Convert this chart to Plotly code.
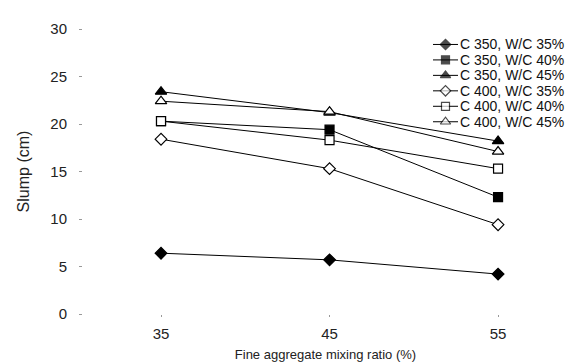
import plotly.graph_objects as go

# ---- data ----
mix_ratio = [35, 45, 55]
c350_wc35 = [6.4, 5.7, 4.2]
c350_wc40 = [20.3, 19.4, 12.3]
c350_wc45 = [23.4, 21.2, 18.2]
c400_wc35 = [18.4, 15.3, 9.4]
c400_wc40 = [20.3, 18.3, 15.3]
c400_wc45 = [22.4, 21.3, 17.1]

series_names = ["C 350, W/C 35%", "C 350, W/C 40%", "C 350, W/C 45%",
                "C 400, W/C 35%", "C 400, W/C 40%", "C 400, W/C 45%"]
series_values = [c350_wc35, c350_wc40, c350_wc45, c400_wc35, c400_wc40, c400_wc45]
x_ticks = [35, 45, 55]
y_ticks = [0, 5, 10, 15, 20, 25, 30]

# ---- styles ----
symbols = ["diamond", "square", "triangle-up", "diamond", "square", "triangle-up"]
fills = ["black", "black", "black", "white", "white", "white"]
sizes = [9, 9, 10, 9, 9, 10]
FONT = "Liberation Sans, Arial, sans-serif"

fig = go.Figure()
for name, vals, sym, fill, sz in zip(series_names, series_values, symbols, fills, sizes):
    fig.add_trace(go.Scatter(
        x=mix_ratio, y=vals, name=name, mode="lines+markers",
        line=dict(color="black", width=1),
        marker=dict(symbol=sym, size=sz, color=fill,
                    line=dict(color="black", width=1.2)),
        showlegend=False, cliponaxis=False,
    ))

# ---- manual compact legend (overlay axes in pixel units) ----
L, R, T, B = 75, 560, 18, 313
row_y0, row_gap = 34, 16
for i, (name, sym, fill, sz) in enumerate(zip(series_names, symbols, fills, sizes)):
    yy = row_y0 + i * row_gap
    fig.add_trace(go.Scatter(
        x=[425, 437.5, 450], y=[yy, yy, yy], xaxis="x2", yaxis="y2",
        mode="lines+markers", line=dict(color="black", width=1),
        marker=dict(symbol=sym, size=[0, sz - 1, 0], color=fill,
                    line=dict(color="black", width=1.2)),
        showlegend=False, hoverinfo="skip", cliponaxis=False,
    ))
    fig.add_annotation(x=451, y=yy, xref="x2", yref="y2", text=name, showarrow=False,
                       xanchor="left", yanchor="middle", borderpad=0,
                       font=dict(family=FONT, size=14, color="#111"))

fig.update_layout(
    width=585, height=363,
    margin=dict(l=L, r=585 - R, t=T, b=363 - B),
    paper_bgcolor="white", plot_bgcolor="white",
    font=dict(family=FONT, color="#222"),
    xaxis=dict(range=[30.37, 59.15], tickvals=x_ticks, showgrid=False, zeroline=False,
               showline=False, ticks="outside", ticklen=2, tickcolor="#999",
               tickfont=dict(size=15), ticklabelstandoff=4,
               title=dict(text="Fine aggregate mixing ratio (%)", font=dict(size=13), standoff=8)),
    yaxis=dict(range=[0, 30], tickvals=y_ticks, showgrid=False, zeroline=False,
               showline=False, ticks="outside", ticklen=3, tickcolor="#999",
               tickfont=dict(size=15), ticklabelstandoff=9,
               title=dict(text="Slump (cm)", font=dict(size=16), standoff=16)),
    xaxis2=dict(overlaying="x", range=[L, R], visible=False, anchor="y2"),
    yaxis2=dict(overlaying="y", range=[B, T], visible=False, anchor="x2"),
)

fig.write_html("out.html")
